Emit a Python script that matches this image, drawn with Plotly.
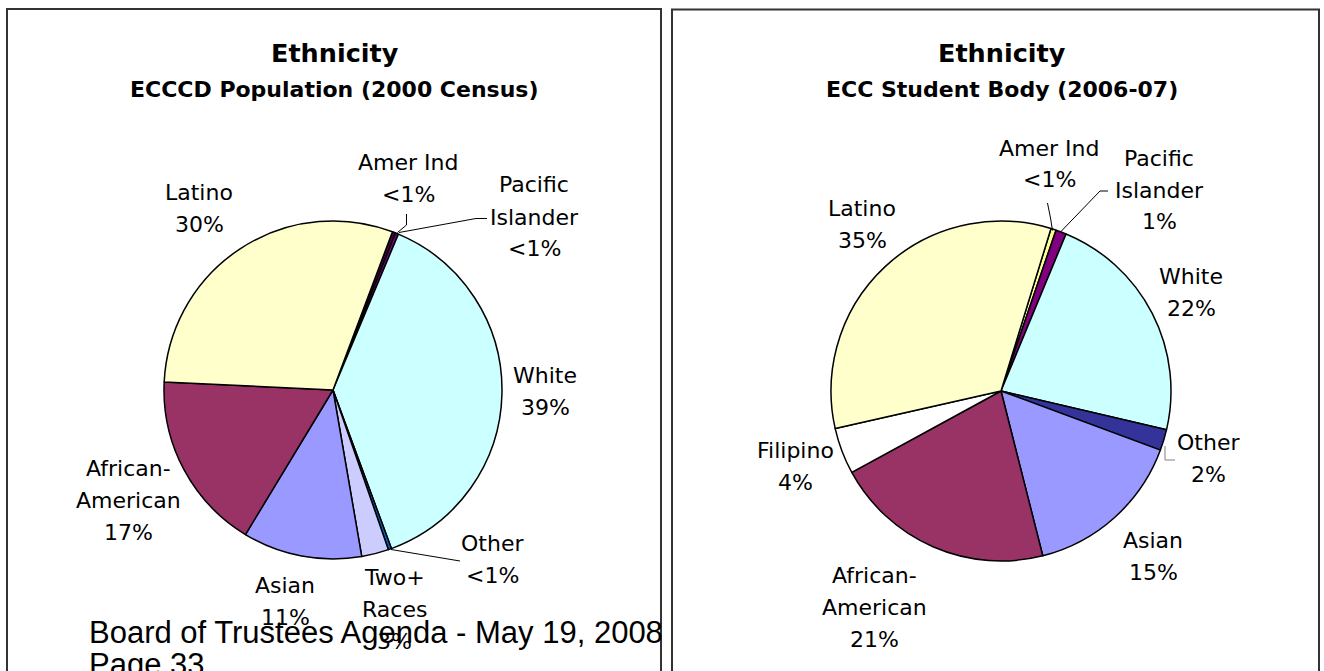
import plotly.graph_objects as go

# ---------------- data ----------------
left_labels = ["Amer Ind", "Pacific\nIslander", "White", "Other", "Two+\nRaces", "Asian", "African-\nAmerican", "Latino"]
left_values = [0.3, 0.3, 38.1, 0.3, 2.6, 11.4, 17.1, 30.0]
left_pct = ["<1%", "<1%", "39%", "<1%", "3%", "11%", "17%", "30%"]
left_colors = ["#4B0050", "#800080", "#CCFFFF", "#0066CC", "#CCCCFF", "#9999FF", "#993366", "#FFFFCC"]

right_labels = ["Amer Ind", "Pacific\nIslander", "White", "Other", "Asian", "African-\nAmerican", "Filipino", "Latino"]
right_values = [0.5, 1.0, 22.4, 2.0, 15.4, 21.0, 4.4, 33.3]
right_pct = ["<1%", "1%", "22%", "2%", "15%", "21%", "4%", "35%"]
right_colors = ["#FFFF99", "#800080", "#CCFFFF", "#333399", "#9999FF", "#993366", "#FFFFFF", "#FFFFCC"]

left_title = "Ethnicity"
left_subtitle = "ECCCD Population (2000 Census)"
right_title = "Ethnicity"
right_subtitle = "ECC Student Body (2006-07)"
footer_lines = ["Board of Trustees Agenda - May 19, 2008", "Page 33"]

# ---------------- layout constants (pixels) ----------------
W, H = 1324, 671
LEFT_C, LEFT_R, LEFT_ROT = (333, 390), 169, 20.6
RIGHT_C, RIGHT_R, RIGHT_ROT = (1001, 391), 170, 17.1
LINE_GAP = 32

# label anchor (center of first line) per slice
left_label_pos = [(408, 162), (534, 185), (545, 375), (492, 543), (394, 577), (285, 585), (128, 468), (199, 192)]
right_label_pos = [(1049, 148), (1159, 158), (1191, 276), (1208, 442), (1153, 540), (874, 575), (795, 450), (862, 208)]

LABEL_FONT = dict(family="DejaVu Sans", size=22, color="#000000")
TITLE_FONT = dict(family="DejaVu Sans", size=25.5, color="#000000")
SUB_FONT = dict(family="DejaVu Sans", size=22, color="#000000")
FOOT_FONT = dict(family="Liberation Sans", size=31, color="#000000")


def px(x):
    return x / W


def py(y):
    return 1 - y / H


def domain(c, r):
    return dict(x=[px(c[0] - r), px(c[0] + r)], y=[py(c[1] + r), py(c[1] - r)])


fig = go.Figure()
for labels, values, colors, c, r, rot in [
    (left_labels, left_values, left_colors, LEFT_C, LEFT_R, LEFT_ROT),
    (right_labels, right_values, right_colors, RIGHT_C, RIGHT_R, RIGHT_ROT),
]:
    fig.add_trace(go.Pie(
        labels=[l.replace("\n", " ") for l in labels],
        values=values,
        sort=False,
        direction="clockwise",
        rotation=rot,
        marker=dict(colors=colors, line=dict(color="#000000", width=1.5)),
        textinfo="none",
        hoverinfo="label+percent",
        domain=domain(c, r),
        showlegend=False,
    ))

annotations = []


def add_text(x, y, text, font, xanchor="center"):
    annotations.append(dict(
        x=px(x), y=py(y), xref="paper", yref="paper", text=text, showarrow=False,
        font=font, xanchor=xanchor, yanchor="middle",
    ))


for labels, pcts, positions in [(left_labels, left_pct, left_label_pos), (right_labels, right_pct, right_label_pos)]:
    for lab, pct, (x, y) in zip(labels, pcts, positions):
        lines = lab.split("\n") + [pct]
        for i, ln in enumerate(lines):
            add_text(x, y + i * LINE_GAP, ln, LABEL_FONT)

add_text(335, 53, "<b>" + left_title + "</b>", TITLE_FONT)
add_text(335, 89, "<b>" + left_subtitle + "</b>", SUB_FONT)
add_text(1002, 53, "<b>" + right_title + "</b>", TITLE_FONT)
add_text(1002, 89, "<b>" + right_subtitle + "</b>", SUB_FONT)

for i, ln in enumerate(footer_lines):
    add_text(87, 632 + i * 32, ln, FOOT_FONT, xanchor="left")


def path(points):
    return "M " + " L ".join(f"{px(x):.5f},{py(y):.5f}" for x, y in points)


shapes = []
# frames
for pts in [[(7, 680), (7, 9), (661, 9), (661, 680)], [(672, 680), (672, 9.5), (1319, 9.5), (1319, 680)]]:
    shapes.append(dict(type="path", xref="paper", yref="paper", path=path(pts),
                       line=dict(color="#333333", width=2)))
# leader lines
leaders = [
    ([(406.5, 214), (406.5, 225), (397.5, 232.5)], "#000000"),
    ([(399, 232.5), (476, 218.5), (487, 218.5)], "#000000"),
    ([(391, 549.5), (460, 561)], "#000000"),
    ([(1047.5, 203), (1050.5, 218), (1052.5, 230.5)], "#000000"),
    ([(1060.5, 232), (1100, 191), (1108, 191)], "#000000"),
    ([(1165, 446), (1165, 460), (1175, 460)], "#808080"),
]
for pts, col in leaders:
    shapes.append(dict(type="path", xref="paper", yref="paper", path=path(pts),
                       line=dict(color=col, width=1)))

fig.update_layout(
    width=W, height=H,
    margin=dict(l=0, r=0, t=0, b=0),
    paper_bgcolor="#FFFFFF", plot_bgcolor="#FFFFFF",
    annotations=annotations, shapes=shapes,
    showlegend=False,
)

fig.write_html(
    "out.html",
    config={"displayModeBar": False},
    post_script="document.body.style.margin='0px';document.body.style.overflow='hidden';",
)
